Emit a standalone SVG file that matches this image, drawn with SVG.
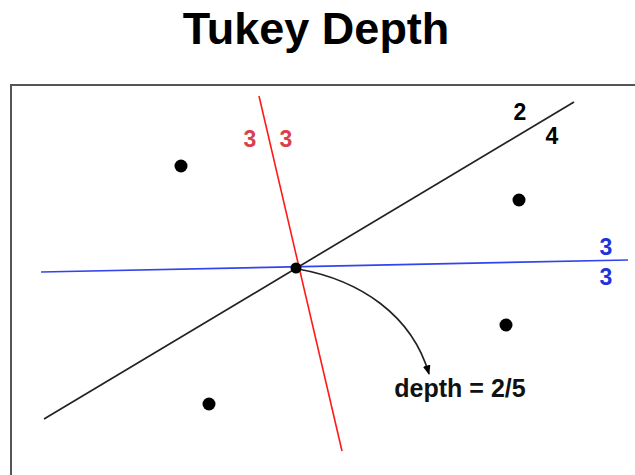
<svg xmlns="http://www.w3.org/2000/svg" width="635" height="475" viewBox="0 0 635 475">
  <style>
    text { font-family: "Liberation Sans", Arial, sans-serif; font-weight: bold; text-anchor: middle; }
    .lbl { font-size: 23px; }
    .dot { fill: #000; }
  </style>
  <defs>
    <marker id="arr" viewBox="0 0 10 10" refX="9" refY="5" markerWidth="6" markerHeight="6" orient="auto-start-reverse">
      <path d="M0,1 L10,5 L0,9 z" fill="#000"/>
    </marker>
  </defs>
  <rect width="635" height="475" fill="#fff"/>
  <text x="316" y="44" font-size="45">Tukey Depth</text>
  <rect x="11" y="85" width="640" height="410" fill="none" stroke="#555" stroke-width="2"/>
  <g id="connectors" fill="none">
    <line id="line-black" x1="44" y1="419" x2="574" y2="102" stroke="#222" stroke-width="1.7"/>
    <line id="line-red" x1="259" y1="96" x2="342" y2="451" stroke="#ff1a1a" stroke-width="1.6"/>
    <line id="line-blue" x1="41" y1="272" x2="628" y2="260" stroke="#3344ee" stroke-width="1.7"/>
    <path id="arrow-depth" d="M298,269 C360,280 412,315 429,374" stroke="#222" stroke-width="1.6" marker-end="url(#arr)"/>
  </g>
  <g id="points">
    <circle id="p1" class="dot" cx="181" cy="166" r="6.5"/>
    <circle id="p2" class="dot" cx="519" cy="200" r="6.5"/>
    <circle id="p3" class="dot" cx="506" cy="325" r="6.5"/>
    <circle id="p4" class="dot" cx="209" cy="404" r="6.5"/>
    <circle id="center" class="dot" cx="296" cy="268" r="5.5"/>
  </g>
  <g id="labels">
    <text class="lbl" x="250" y="147" fill="#d9414b">3</text>
    <text class="lbl" x="286" y="147" fill="#d9414b">3</text>
    <text class="lbl" x="520" y="120" fill="#000">2</text>
    <text class="lbl" x="552" y="144" fill="#000">4</text>
    <text class="lbl" x="606" y="255" fill="#2233dd">3</text>
    <text class="lbl" x="606" y="285" fill="#2233dd">3</text>
    <text x="460" y="397" font-size="25" fill="#111">depth = 2/5</text>
  </g>
</svg>
